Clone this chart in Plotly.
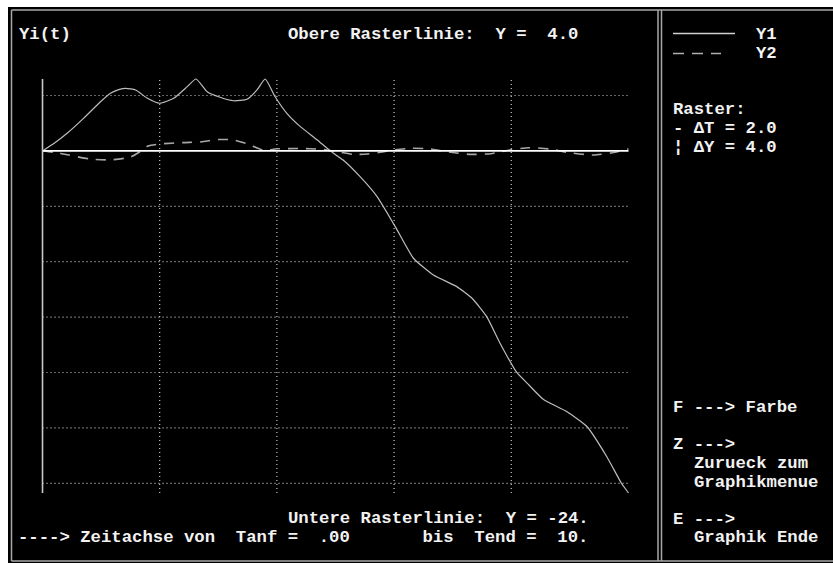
import plotly.graph_objects as go

# ---- data -------------------------------------------------------------
t1 = [0, 0.2, 0.42, 0.7, 0.99, 1.16, 1.3, 1.42, 1.59, 1.79, 2.0, 2.24, 2.47, 2.62,
      2.81, 3.03, 3.26, 3.49, 3.66, 3.8, 3.97, 4.17, 4.4, 4.69, 4.91, 5.13, 5.42,
      5.71, 6.02, 6.33, 6.67, 7.07, 7.33, 7.58, 7.81, 8.09, 8.3, 8.55, 8.95, 9.29,
      9.63, 9.88, 10.0]
y1 = [0, 0.55, 1.27, 2.35, 3.55, 4.16, 4.42, 4.52, 4.4, 3.8, 3.44, 3.8, 4.64, 5.19,
      4.27, 3.87, 3.62, 3.73, 4.4, 5.19, 3.91, 2.71, 1.75, 0.79, 0, -0.66, -1.86,
      -3.3, -5.47, -7.75, -8.96, -9.8, -10.64, -11.97, -13.9, -15.98, -16.9, -17.95,
      -18.83, -19.9, -22.08, -24.0, -24.7]

t2 = [0, 0.2, 0.45, 0.8, 1.15, 1.5, 1.65, 1.8, 2.0, 2.4, 2.7, 3.0, 3.25, 3.5, 3.77,
      4.0, 4.4, 4.75, 4.95, 5.3, 5.55, 5.8, 5.95, 6.3, 6.6, 6.8, 7.0, 7.3, 7.65, 7.95,
      8.3, 8.65, 8.95, 9.4, 9.7, 10.0]
y2 = [0, -0.1, -0.3, -0.58, -0.65, -0.45, -0.1, 0.35, 0.5, 0.6, 0.65, 0.82, 0.8, 0.5,
      0.05, 0.15, 0.17, 0.12, 0.0, -0.25, -0.22, -0.08, 0.05, 0.19, 0.15, 0.0, -0.12,
      -0.25, -0.2, 0.05, 0.23, 0.14, -0.1, -0.3, -0.15, 0.14]

t_anf, t_end = 0.0, 10.0
d_t, d_y = 2.0, 4.0
y_top, y_bottom = 4.0, -24.0

# ---- screen geometry (pixels) -----------------------------------------
W, H = 833, 563
X0_PX, PX_PER_T = 42.5, 58.6          # t = 0 position and scale
Y0_PX, PX_PER_Y = 150.9, 13.85        # Y = 0 position and scale

x_range = [(0 - X0_PX) / PX_PER_T, (W - X0_PX) / PX_PER_T]
y_range = [(Y0_PX - H) / PX_PER_Y, (Y0_PX - 0) / PX_PER_Y]


def px(x):
    return x / W


def py(y):
    return 1 - y / H


FG = "#f2f2f2"
GRID = "#c8c8c8"
FRAME = "#a8a8a8"
FONT = dict(family="Liberation Mono", size=17.3, color=FG, weight="bold")

fig = go.Figure()

y_all = y1 + y2
y_max, y_min = max(y_all), min(y_all)

shapes = []


def screen_line(x0, y0, x1, y1_, color=FRAME, width=1.5, dash=None):
    line = dict(color=color, width=width)
    if dash:
        line["dash"] = dash
    return dict(type="line", xref="paper", yref="paper", x0=px(x0), x1=px(x1),
                y0=py(y0), y1=py(y1_), line=line, layer="below")


# screen background and frame
shapes.append(dict(type="rect", xref="paper", yref="paper", x0=px(8), x1=1.0,
                   y0=0.0, y1=py(7), fillcolor="black", line_width=0, layer="below"))
shapes.append(screen_line(11.5, 10, W, 10))
shapes.append(screen_line(11.5, 10, 11.5, 561))
shapes.append(screen_line(11.5, 561, W, 561))
for xd in (658, 661.5):
    shapes.append(screen_line(xd, 10, xd, 561))

# dotted raster
t = t_anf + d_t
while t < t_end - 1e-9:
    shapes.append(dict(type="line", x0=t, x1=t, y0=y_min, y1=y_max,
                       line=dict(color=GRID, width=1.2, dash="1px,3px"), layer="below"))
    t += d_t
yv = y_top
while yv >= y_bottom - 1e-9:
    if abs(yv) > 1e-9:
        shapes.append(dict(type="line", x0=t_anf, x1=t_end, y0=yv, y1=yv,
                           line=dict(color=GRID, width=1.2, dash="1px,3px"), layer="below"))
    yv -= d_y

# time axis (Y = 0) and vertical axis
shapes.append(dict(type="line", x0=t_anf, x1=t_end, y0=0, y1=0,
                   line=dict(color="#ffffff", width=1.6)))
shapes.append(dict(type="line", x0=t_anf, x1=t_anf, y0=y_min, y1=y_max,
                   line=dict(color="#c8c8c8", width=1.6)))

# legend samples
shapes.append(screen_line(673, 33.5, 735, 33.5, color="#d0d0d0", width=1.3))
shapes.append(screen_line(673, 53.5, 721, 53.5, color="#b0b0b0", width=1.5, dash="11px,8px"))

fig.add_trace(go.Scatter(x=t1, y=y1, mode="lines", name="Y1",
                         line=dict(color="#bdbdbd", width=1.2, shape="spline", smoothing=0.5)))
fig.add_trace(go.Scatter(x=t2, y=y2, mode="lines", name="Y2",
                         line=dict(color="#a8a8a8", width=1.6, dash="10px,8px",
                                   shape="spline", smoothing=0.6)))


def fmt(s):
    return s.replace(" ", "\u00a0")


texts = [
    (19, 35, "Yi(t)"),
    (288, 35, f"Obere Rasterlinie:  Y =  {y_top:.1f}"),
    (756, 34, "Y1"),
    (756, 53.5, "Y2"),
    (673, 110, "Raster:"),
    (673, 128.5, f"- ΔT = {d_t:.1f}"),
    (673, 147, f"¦ ΔY = {d_y:.1f}"),
    (673, 407, "F ---> Farbe"),
    (673, 444, "Z --->"),
    (694, 463, "Zurueck zum"),
    (694, 482, "Graphikmenue"),
    (673, 519, "E --->"),
    (694, 537, "Graphik Ende"),
    (288, 518.5, f"Untere Rasterlinie:  Y = {int(y_bottom)}."),
    (18, 537, f"----> Zeitachse von  Tanf =  .00       bis  Tend =  {int(t_end)}."),
]
annotations = [dict(x=px(x), y=py(y), xref="paper", yref="paper", text=fmt(s),
                    showarrow=False, xanchor="left", yanchor="middle", font=FONT,
                    borderpad=0, borderwidth=0)
               for x, y, s in texts]

fig.update_layout(
    width=W, height=H, autosize=False,
    margin=dict(l=0, r=0, t=0, b=0, pad=0),
    paper_bgcolor="white", plot_bgcolor="rgba(0,0,0,0)",
    showlegend=False,
    xaxis=dict(range=x_range, visible=False, showgrid=False, zeroline=False, fixedrange=True),
    yaxis=dict(range=y_range, visible=False, showgrid=False, zeroline=False, fixedrange=True),
    shapes=shapes, annotations=annotations,
)

fig.write_html("out.html")
